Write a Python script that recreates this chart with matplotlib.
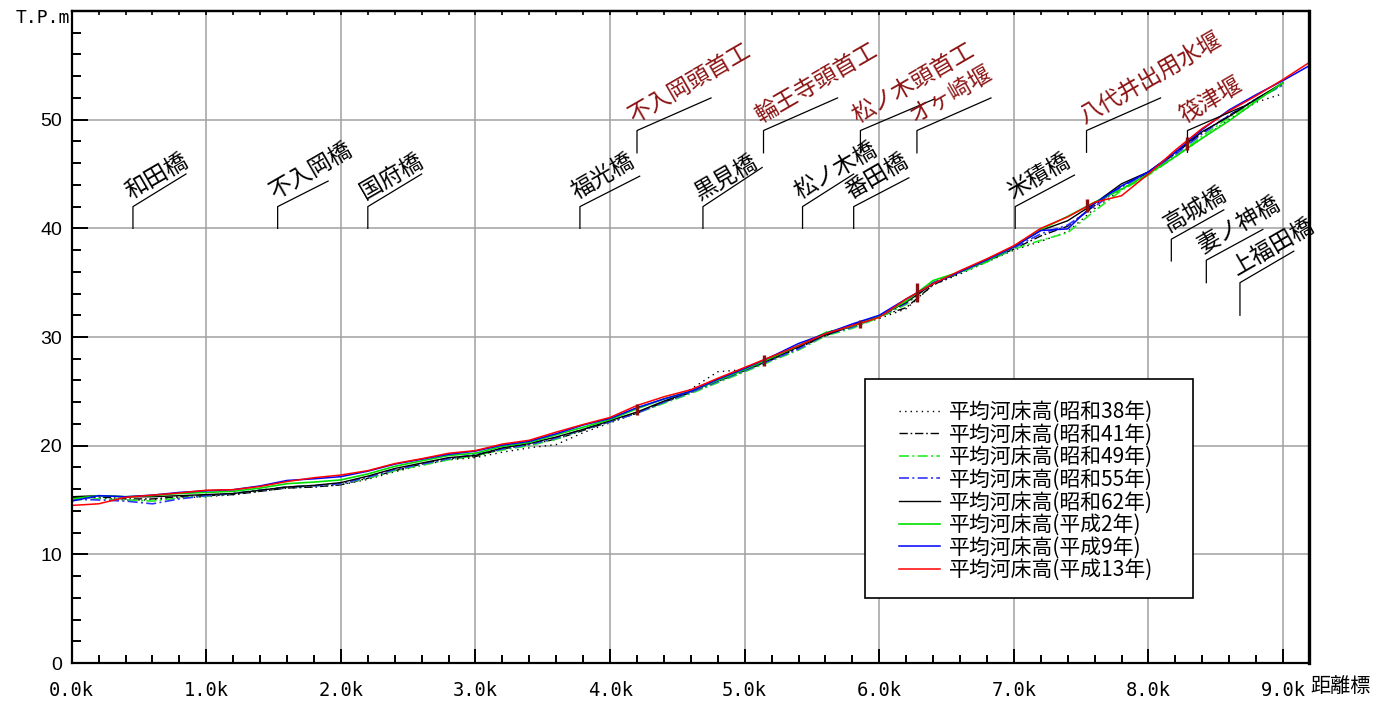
import numpy as np
import matplotlib
matplotlib.use("Agg")
import matplotlib.pyplot as plt
from matplotlib.patches import Rectangle
from matplotlib.transforms import offset_copy

# distance (km) of the surveyed sections
km = [0.0, 0.2, 0.4, 0.6, 0.8, 1.0, 1.2, 1.4, 1.6, 1.8, 2.0, 2.2, 2.4, 2.6, 2.8,
      3.0, 3.2, 3.4, 3.6, 3.8, 4.0, 4.2, 4.4, 4.6, 4.8, 5.0, 5.2, 5.4, 5.6, 5.8,
      6.0, 6.2, 6.4, 6.6, 6.8, 7.0, 7.2, 7.4, 7.6, 7.8, 8.0, 8.2, 8.4, 8.6, 8.8,
      9.0, 9.2]

# mean river bed height (T.P.m) per survey year
s38 = [15.2, 15.2, 15.0, 15.0, 15.2, 15.3, 15.5, 15.8, 16.1, 16.2, 16.4, 16.9, 17.6, 18.2, 18.7,
       18.9, 19.4, 19.8, 20.1, 21.2, 22.1, 23.0, 24.0, 25.2, 26.8, 27.0, 27.9, 29.0, 30.4, 31.0,
       31.7, 32.6, 34.8, 35.8, 36.9, 38.0, 38.8, 39.7, 41.8, 43.6, 45.0, 46.6, 48.3, 50.0, 51.6,
       52.4]
s41 = [15.2, 15.3, 15.1, 15.1, 15.3, 15.4, 15.5, 15.8, 16.1, 16.2, 16.4, 17.0, 17.7, 18.3, 18.8,
       19.0, 19.7, 20.1, 20.6, 21.4, 22.2, 23.0, 24.0, 24.9, 25.9, 26.9, 27.9, 29.0, 30.1, 31.1,
       31.9, 32.7, 34.8, 35.9, 37.0, 38.1, 39.3, 40.2, 42.1, 43.9, 45.1, 46.9, 48.8, 50.4, 51.9,
       53.3]
s49 = [15.0, 15.1, 15.0, 14.9, 15.2, 15.35, 15.6, 15.9, 16.2, 16.3, 16.5, 17.0, 17.7, 18.2, 18.7,
       19.1, 19.6, 20.0, 20.6, 21.5, 22.2, 23.0, 23.9, 24.8, 25.8, 26.8, 27.8, 28.8, 30.1, 30.8,
       31.8, 33.0, 35.0, 35.9, 36.9, 38.1, 38.9, 39.6, 41.6, 43.5, 44.9, 46.6, 48.5, 50.2, 51.8,
       53.2]
s55 = [15.1, 15.0, 14.9, 14.65, 15.1, 15.4, 15.6, 15.9, 16.2, 16.3, 16.5, 17.1, 17.8, 18.3, 18.8,
       19.2, 19.7, 20.1, 20.7, 21.5, 22.2, 23.0, 24.0, 24.9, 25.9, 26.9, 27.9, 28.9, 30.2, 30.9,
       31.9, 33.1, 35.0, 36.0, 37.0, 38.2, 39.5, 40.3, 42.0, 43.8, 45.1, 46.8, 48.7, 50.4, 51.9,
       53.2]
s62 = [15.3, 15.4, 15.3, 15.3, 15.4, 15.5, 15.6, 15.9, 16.2, 16.35, 16.6, 17.2, 17.9, 18.4, 18.9,
       19.1, 19.8, 20.2, 20.8, 21.5, 22.3, 23.1, 24.1, 25.0, 26.0, 27.0, 28.0, 29.1, 30.2, 31.0,
       31.9, 33.2, 34.9, 36.0, 37.1, 38.3, 39.8, 40.7, 42.3, 44.1, 45.2, 47.0, 48.9, 50.3, 51.9,
       53.4]
h2 = [15.1, 15.4, 15.3, 15.4, 15.6, 15.7, 15.8, 16.1, 16.5, 16.65, 16.85, 17.4, 18.1, 18.6, 19.1,
      19.3, 19.95, 20.3, 21.0, 21.7, 22.4, 23.4, 24.3, 25.0, 26.0, 27.0, 28.1, 29.2, 30.4, 31.0,
      31.9, 33.3, 35.2, 36.0, 37.0, 38.3, 39.9, 41.1, 42.4, 43.6, 45.0, 46.6, 48.3, 49.9, 51.7,
      53.4]
h9 = [14.9, 15.4, 15.3, 15.45, 15.7, 15.85, 15.95, 16.3, 16.8, 16.95, 17.15, 17.65, 18.3, 18.75, 19.2,
      19.5, 20.05, 20.4, 21.1, 21.9, 22.5, 23.5, 24.3, 25.0, 26.1, 27.1, 28.2, 29.4, 30.3, 31.2,
      32.0, 33.5, 34.9, 36.0, 37.1, 38.3, 39.8, 39.95, 42.3, 43.9, 45.2, 47.0, 49.1, 50.9, 52.3,
      53.6, 55.0]
h13 = [14.5, 14.65, 15.25, 15.45, 15.65, 15.9, 15.95, 16.25, 16.7, 17.05, 17.3, 17.7, 18.35, 18.8, 19.3,
       19.55, 20.15, 20.5, 21.25, 21.95, 22.6, 23.7, 24.5, 25.15, 26.2, 27.2, 28.2, 29.2, 30.3, 31.05,
       31.8, 33.5, 34.9, 36.1, 37.2, 38.4, 40.0, 41.05, 42.4, 43.0, 45.0, 47.2, 49.2, 50.8, 52.2,
       53.7, 55.3]

series_labels = ["平均河床高(昭和38年)", "平均河床高(昭和41年)", "平均河床高(昭和49年)",
                 "平均河床高(昭和55年)", "平均河床高(昭和62年)", "平均河床高(平成2年)",
                 "平均河床高(平成9年)", "平均河床高(平成13年)"]

# bridges: name, km, leader (bottom, corner, end x, end y)
bridge_names = ["和田橋", "不入岡橋", "国府橋", "福光橋", "黒見橋", "松ノ木橋", "番田橋",
                "米積橋", "高城橋", "妻ノ神橋", "上福田橋"]
bridge_km = [0.455, 1.53, 2.20, 3.776, 4.69, 5.43, 5.81, 7.01, 8.17, 8.43, 8.68]
bridge_y0 = [40, 40, 40, 40, 40, 40, 40, 40, 37, 35, 32]
bridge_y1 = [42, 42, 42, 42, 42, 42, 42, 42, 39, 37.07, 35]
bridge_xe = [0.849, 1.905, 2.60, 4.22, 5.13, 5.81, 6.22, 7.45, 8.56, 8.85, 9.08]
bridge_ye = [45.0, 44.35, 45.0, 44.8, 45.6, 45.0, 44.65, 44.9, 41.7, 39.9, 37.9]

# weirs
weir_names = ["不入岡頭首工", "輪王寺頭首工", "松ノ木頭首工", "オヶ崎堰", "八代井出用水堰", "筏津堰"]
weir_km = [4.20, 5.14, 5.86, 6.28, 7.54, 8.29]
weir_bed = [23.3, 27.8, 31.2, 34.1, 42.1, 47.8]
weir_h = [0.5, 0.5, 0.4, 0.9, 0.6, 0.6]
weir_y0 = [46.95, 46.95, 46.95, 46.95, 47.0, 47.0]
weir_y1 = [49, 49, 49, 49, 49, 49]
weir_xe = [4.75, 5.69, 6.41, 6.83, 8.09, 8.70]
weir_ye = [52.0, 52.0, 51.9, 52.0, 52.0, 51.2]

cjk = ["Noto Sans CJK JP", "DejaVu Sans"]

fig = plt.figure(figsize=(13.74, 7.06), dpi=100)
ax = fig.add_axes([0.0522, 0.0609, 0.9002, 0.9235])
ax.set_xlim(0, 9.19)
ax.set_ylim(0, 60)

# grid
for gx in range(1, 10):
    ax.axvline(gx, color="#a0a0a0", lw=1.1, zorder=0)
for gy in range(10, 60, 10):
    ax.axhline(gy, color="#a0a0a0", lw=1.1, zorder=0)

x = np.array(km)
n46 = len(s38)
dd = (0, (6, 2, 1.2, 2))
ax.plot(x[:n46], s38, color="black", lw=1.0, ls=(0, (1, 3)), label=series_labels[0])
ax.plot(x[:n46], s41, color="black", lw=1.0, ls=dd, label=series_labels[1])
ax.plot(x[:n46], s49, color="#22ee22", lw=1.2, ls=dd, label=series_labels[2])
ax.plot(x[:n46], s55, color="#3333ff", lw=1.2, ls=dd, label=series_labels[3])
ax.plot(x[:n46], s62, color="black", lw=1.0, label=series_labels[4])
ax.plot(x[:n46], h2, color="#00e000", lw=1.2, label=series_labels[5])
ax.plot(x, h9, color="#0000ff", lw=1.1, label=series_labels[6])
ax.plot(x, h13, color="#ff0000", lw=1.1, label=series_labels[7])

# weir position marks on the bed
for wx, wy, wh in zip(weir_km, weir_bed, weir_h):
    ax.plot([wx, wx], [wy - wh, wy + wh], color="#8b1010", lw=2.4, solid_capstyle="butt", zorder=5)

# leader lines and names
def leader(xk, y0, y1, xe, ye, name, color):
    ax.plot([xk, xk, xe], [y0, y1, ye], color="black", lw=0.9, zorder=3)
    tr = offset_copy(ax.transData, fig=fig, x=-3, y=7, units="dots")
    ax.text(xk, y1, name, transform=tr, rotation=30, rotation_mode="anchor",
            ha="left", va="baseline", fontsize=16.5, color=color, family=cjk)

for i in range(len(bridge_names)):
    leader(bridge_km[i], bridge_y0[i], bridge_y1[i], bridge_xe[i], bridge_ye[i],
           bridge_names[i], "black")
for i in range(len(weir_names)):
    leader(weir_km[i], weir_y0[i], weir_y1[i], weir_xe[i], weir_ye[i],
           weir_names[i], "#8b1414")

# ticks
ax.set_xticks(np.arange(0, 9.5, 1.0))
ax.set_xticklabels(["%.1fk" % v for v in np.arange(0, 9.5, 1.0)],
                   family="DejaVu Sans Mono", fontsize=13.5)
ax.set_xticks(np.arange(0, 9.2, 0.2), minor=True)
ax.set_yticks(range(0, 60, 10))
ax.set_yticklabels([str(v) for v in range(0, 60, 10)], family="Liberation Sans", fontsize=14)
ax.set_yticks(range(0, 61, 2), minor=True)
ax.tick_params(axis="x", which="major", direction="in", length=10, width=1.4, pad=13)
ax.tick_params(axis="x", which="minor", direction="in", length=5.8, width=1.4)
ax.tick_params(axis="y", which="major", direction="in", length=11.5, width=1.4, pad=7)
ax.tick_params(axis="y", which="minor", direction="in", length=6.5, width=1.4)

top = ax.secondary_xaxis("top")
top.set_xticks(np.arange(0, 9.2, 0.2))
top.tick_params(direction="in", length=3, width=1.2, labeltop=False)
top.spines["top"].set_linewidth(1.6)

for s in ["left", "bottom", "top"]:
    ax.spines[s].set_linewidth(1.6)
ax.spines["right"].set_linewidth(2.4)

fig.text(0.051, 0.975, "T.P.m", ha="right", va="center", family="DejaVu Sans Mono", fontsize=13)
fig.text(0.954, 0.028, "距離標", ha="left", va="center", family=cjk, fontsize=14.5)

# legend with its own frame
ax.add_patch(Rectangle((0.6413, 0.0997), 0.2652, 0.3359, transform=ax.transAxes,
                       facecolor="white", edgecolor="black", lw=1.2, zorder=6))
leg = ax.legend(loc="upper left", bbox_to_anchor=(0.6685, 0.402), frameon=False,
                prop={"family": cjk, "size": 15}, handlelength=2.0, handletextpad=0.4,
                labelspacing=0.03, borderpad=0, borderaxespad=0)
leg.set_zorder(7)

fig.savefig("out.png", dpi=100)
